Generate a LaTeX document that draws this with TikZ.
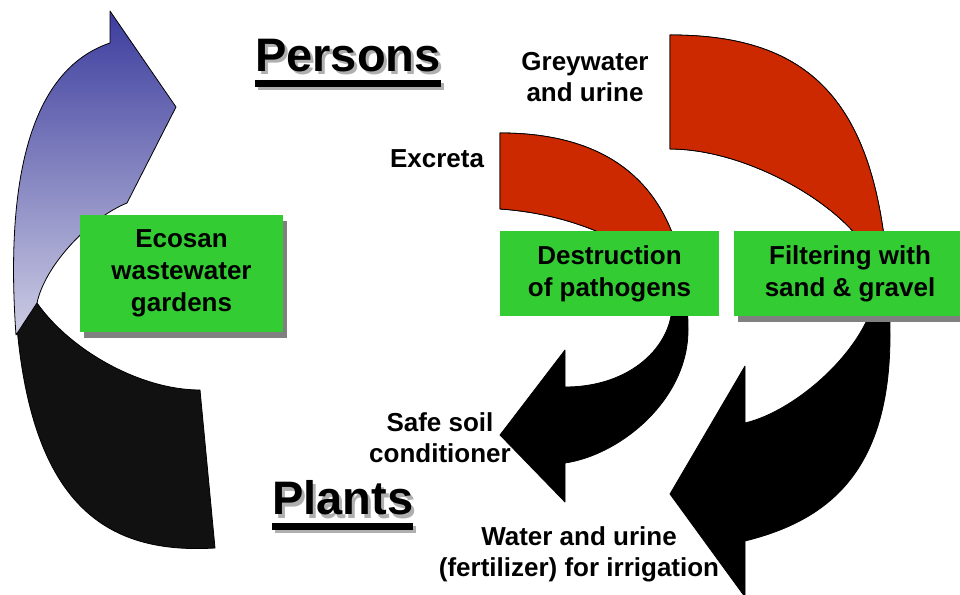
\documentclass[tikz,border=0pt]{standalone}
\usepackage{fontspec}
\setmainfont{Liberation Sans}
\usetikzlibrary{shadows}
\definecolor{excred}{RGB}{204,41,0}
\definecolor{boxgreen}{RGB}{51,204,51}
\definecolor{shgray}{RGB}{128,128,128}
\definecolor{ttlgray}{RGB}{175,175,175}
\definecolor{ecoblue}{RGB}{60,60,158}
\definecolor{ecolight}{RGB}{205,205,228}
\definecolor{backblack}{RGB}{17,17,17}

\begin{document}
\begin{tikzpicture}[
    x=1pt, y=1pt,
    gbox/.style={rectangle, fill=boxgreen, inner sep=0pt, align=center,
        font=\fontsize{26}{32}\selectfont\bfseries},
    gboxsh/.style={gbox, general shadow={fill=shgray,
        shadow xshift=4pt, shadow yshift=-6pt}},
    lbl/.style={inner sep=0pt, align=center,
        font=\fontsize{26}{31}\selectfont\bfseries},
    ttl/.style={inner sep=0pt, anchor=base west,
        font=\fontsize{47}{50}\selectfont\bfseries},
    band/.style={draw=black, line width=0.8pt, line join=round},
]
\useasboundingbox (0,0) rectangle (960,594);

% ====== LEFT: curved arrow back to persons ======
\filldraw[fill=backblack, band] (30,314) -- (14,319)
    .. controls (20,94) and (100,39) .. (215,46) -- (200,204)
    .. controls (140,204) and (70,244) .. (37,291) -- cycle;
\shadedraw[top color=ecoblue, bottom color=ecolight, band]
    (110,583) -- (176,487) -- (127,391)
    .. controls (90,376) and (45,329) .. (37,291) -- (16,259)
    .. controls (5,414) and (30,524) .. (110,551) -- cycle;

% ====== RIGHT: excreta and greywater arrows ======
\def\excpath{(500,461) .. controls (610,461) and (688,409) .. (688,264)
    .. controls (688,194) and (620,139) .. (565,131)
    -- (565,92) -- (500,159) -- (565,244) -- (565,207)
    .. controls (632,207) and (672,249) .. (672,289)
    .. controls (672,334) and (590,379) .. (500,385) -- cycle}
\def\greypath{(670,559) .. controls (820,559) and (889,484) .. (890,259)
    .. controls (890,124) and (830,74) .. (745,53)
    -- (745,-3) -- (670,100) -- (745,228) -- (745,171)
    .. controls (800,184) and (877,254) .. (877,314)
    .. controls (877,369) and (760,445) .. (670,445) -- cycle}

\filldraw[fill=black, band] \excpath;
\filldraw[fill=black, band] \greypath;
\begin{scope}
    \clip (0,319) rectangle (960,594);
    \filldraw[fill=excred, band] \excpath;
    \filldraw[fill=excred, band] \greypath;
\end{scope}

% ====== BOXES ======
\node[gboxsh, minimum width=203pt, minimum height=117pt] (eco)
    at (181.5,320.5) {Ecosan\\wastewater\\gardens};
\node[gbox, minimum width=219pt, minimum height=85pt] (destr)
    at (609.5,320.5) {Destruction\\of pathogens};
\node[gboxsh, minimum width=232pt, minimum height=85pt] (filter)
    at (850,320.5) {Filtering with\\sand \& gravel};

% ====== LABELS ======
\node[lbl] (grey) at (585,517) {Greywater\\and urine};
\node[lbl, anchor=base] (excr) at (437,426) {Excreta};
\node[lbl] (safe) at (440,156) {Safe soil\\conditioner};
\node[lbl] (water) at (579,40) {Water and urine\\(fertilizer) for irrigation};

% ====== TITLES (with grey drop shadow) ======
\foreach \nm/\tx/\px/\py in {persons/Persons/255/522, plants/Plants/272/79} {
    \node[ttl] (\nm) at (\px,\py)
        {\rlap{\hspace{3pt}\raisebox{-3pt}{\textcolor{ttlgray}{\tx}}}\tx};
    \fill[ttlgray] ([shift={(3,-11)}]\nm.base west)
        rectangle ([shift={(3,-18)}]\nm.base east);
    \fill ([yshift=-8pt]\nm.base west) rectangle ([yshift=-15pt]\nm.base east);
}
\end{tikzpicture}
\end{document}
